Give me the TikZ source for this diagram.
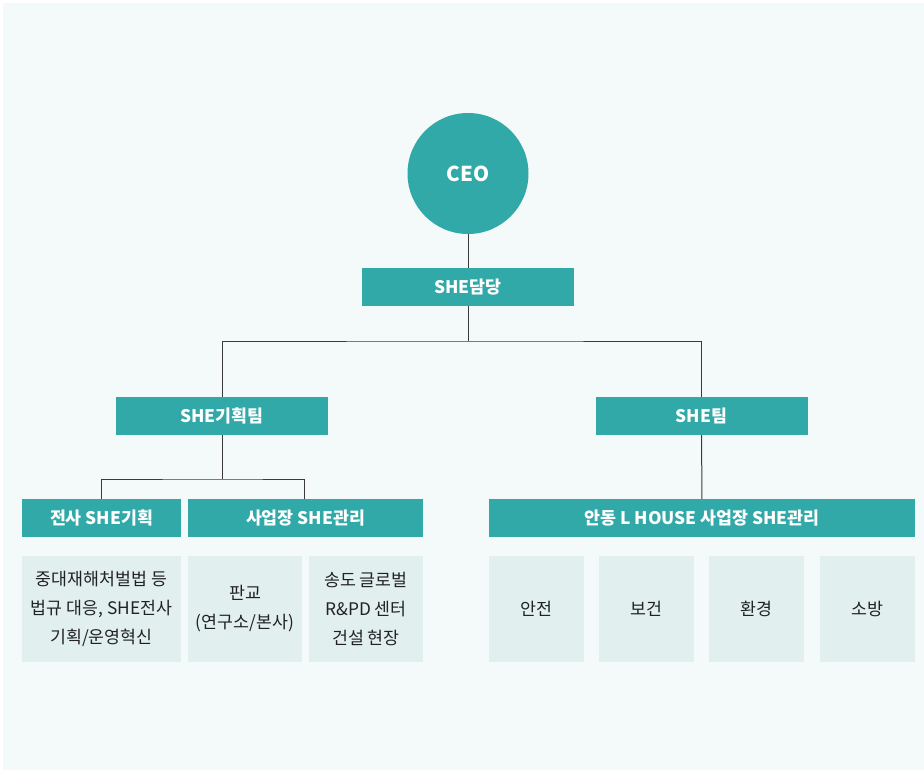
\documentclass[tikz,border=0pt]{standalone}
\usepackage{fontspec}
\setmainfont{Noto Sans CJK KR}
\definecolor{teal1}{HTML}{31A9A8}
\definecolor{lightbox}{HTML}{E1EFEE}
\definecolor{bgc}{HTML}{F4FAFA}
\definecolor{linec}{HTML}{3A3A3A}
\definecolor{txt}{HTML}{222222}
\begin{document}
\begin{tikzpicture}[x=1pt,y=-1pt,
  hbox/.style={rectangle, fill=teal1, text=white, inner sep=0pt, minimum height=38,
    font=\fontsize{17.3}{20}\selectfont\bfseries},
  lbox/.style={rectangle, fill=lightbox, text=txt, inner sep=0pt, minimum height=106,
    align=center, font=\fontsize{17.3}{29}\selectfont},
  conn/.style={draw=linec, line width=1pt}]
\useasboundingbox (0,0) rectangle (924,770);
\fill[white] (0,0) rectangle (924,770);
\fill[bgc] (3,3) rectangle (924,770);

\node[circle, fill=teal1, text=white, minimum size=121, inner sep=0pt,
  font=\fontsize{20.5}{24}\selectfont\bfseries] (ceo) at (468,173.5) {CEO};
\node[hbox, minimum width=212] (she) at (468,287) {SHE담당};
\node[hbox, minimum width=212] (plan) at (222,416) {SHE기획팀};
\node[hbox, minimum width=212] (team) at (701.5,416) {SHE팀};
\node[hbox, minimum width=159] (a1) at (101.5,518) {전사 SHE기획};
\node[hbox, minimum width=235] (a2) at (305.5,518) {사업장 SHE관리};
\node[hbox, minimum width=426] (b) at (702,518) {안동 L HOUSE 사업장 SHE관리};

\node[lbox, minimum width=159] (l1) at (101.5,609) {중대재해처벌법 등\\법규 대응, SHE전사\\기획/운영혁신};
\node[lbox, minimum width=114] (l2) at (245,609) {판교\\(연구소/본사)};
\node[lbox, minimum width=114] (l3) at (366,609) {송도 글로벌\\R\&PD 센터\\건설 현장};
\node[lbox, minimum width=95] (r1) at (536.5,609) {안전};
\node[lbox, minimum width=95] (r2) at (646.5,609) {보건};
\node[lbox, minimum width=95] (r3) at (756.5,609) {환경};
\node[lbox, minimum width=95] (r4) at (867.5,609) {소방};

\coordinate (j1) at (468,341);
\coordinate (j2) at (222,479);
\coordinate (j2a) at (304,479);
\draw[conn] (ceo) -- (she);
\draw[conn] (she) -- (j1);
\draw[conn] (plan.north) |- (j1) -| (team.north);
\draw[conn] (plan) -- (j2);
\draw[conn] (a1.north) |- (j2) -- (j2a) -- (j2a |- a2.north);
\draw[conn] (team) -- (b);
\end{tikzpicture}
\end{document}
